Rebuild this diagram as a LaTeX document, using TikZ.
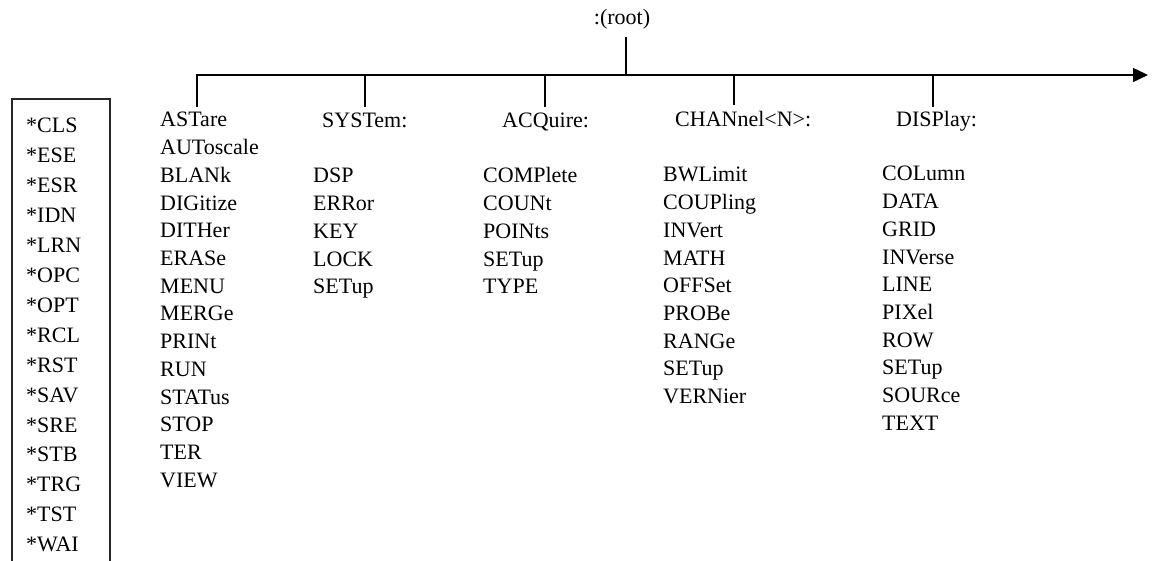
\documentclass[tikz,border=0pt]{standalone}
\usepackage{fontspec}
\setmainfont{Liberation Serif}
\usetikzlibrary{arrows.meta}
\begin{document}
\begin{tikzpicture}[x=1pt,y=-1pt,
  lbl/.style={anchor=base west,inner sep=0pt,font=\fontsize{22}{26}\selectfont},
  hdr/.style={lbl},
  bus/.style={line width=1.4pt},
  tick/.style={line width=1.3pt},
  frame/.style={line width=1.3pt,draw=black!85}]
\useasboundingbox[fill=white] (0,0) rectangle (1155,561);
% root label and horizontal bus
\node[lbl,anchor=base] (root) at (622,25) {:(root)};
\coordinate (rootdrop) at (626,37);
\coordinate (busL) at (197,75);
\coordinate (busR) at (1148,75);
\coordinate (tAst) at (197,107);
% the bus turns down into the first branch
\draw[bus,-{Triangle[length=15pt,width=14pt]}] (tAst) -- (busL) -- (busR);
\draw[tick] (rootdrop) -- (rootdrop |- busL);
% common commands box
\draw[frame] (12,99) rectangle (110,575);
\foreach \t [count=\i from 0] in {*CLS,*ESE,*ESR,*IDN,*LRN,*OPC,*OPT,*RCL,*RST,*SAV,*SRE,*STB,*TRG,*TST,*WAI}
  \node[lbl] (c\i) at (26,133+29.9*\i) {\t};
% subsystem headers
\node[hdr] (ast) at (160,127) {ASTare};
\node[hdr] (sys) at (322,128) {SYSTem:};
\node[hdr] (acq) at (502,128) {ACQuire:};
\node[hdr] (chan) at (675,127) {CHANnel<N>:};
\node[hdr] (disp) at (896,127) {DISPlay:};
\coordinate (tSys) at (365,107);
\coordinate (tAcq) at (545,107);
\coordinate (tChan) at (734,105);
\coordinate (tDisp) at (933,107);
\foreach \c in {tSys,tAcq,tChan,tDisp}
  \draw[tick] (\c) -- (\c |- busL);
% root-level commands
\foreach \t [count=\i from 1] in {AUToscale,BLANk,DIGitize,DITHer,ERASe,MENU,MERGe,PRINt,RUN,STATus,STOP,TER,VIEW}
  \node[lbl] (a\i) at (160,127+27.7*\i) {\t};
% SYSTem subcommands
\foreach \t [count=\i from 0] in {DSP,ERRor,KEY,LOCK,SETup}
  \node[lbl] (s\i) at (313,183+27.7*\i) {\t};
% ACQuire subcommands
\foreach \t [count=\i from 0] in {COMPlete,COUNt,POINts,SETup,TYPE}
  \node[lbl] (q\i) at (483,183+27.7*\i) {\t};
% CHANnel subcommands
\foreach \t [count=\i from 0] in {BWLimit,COUPling,INVert,MATH,OFFSet,PROBe,RANGe,SETup,VERNier}
  \node[lbl] (h\i) at (663,182+27.7*\i) {\t};
% DISPlay subcommands
\foreach \t [count=\i from 0] in {COLumn,DATA,GRID,INVerse,LINE,PIXel,ROW,SETup,SOURce,TEXT}
  \node[lbl] (d\i) at (882,181+27.7*\i) {\t};
\end{tikzpicture}
\end{document}
